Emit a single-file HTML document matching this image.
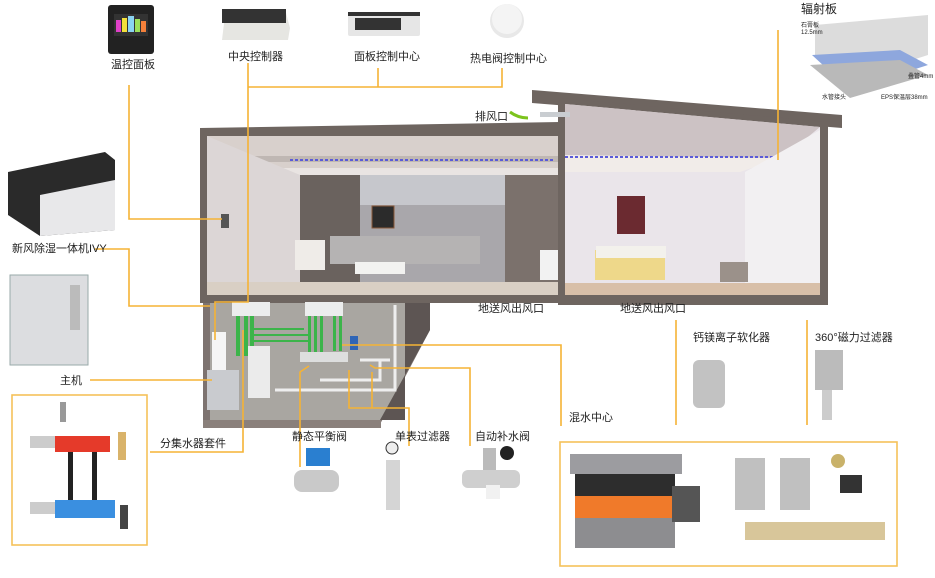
<!DOCTYPE html>
<html><head><meta charset="utf-8">
<style>
html,body{margin:0;padding:0;background:#fff;}
body{width:935px;height:573px;overflow:hidden;}
svg text{font-family:"Liberation Sans","Noto Sans CJK SC",sans-serif;font-size:11px;fill:#222;}
</style></head><body>
<svg width="935" height="573" viewBox="0 0 935 573" xmlns="http://www.w3.org/2000/svg">
<polygon points="200,128 560,122 560,300 200,300" fill="#6e6560"/>
<rect x="207" y="136" width="352" height="160" fill="#e9e4e2"/>
<rect x="207" y="136" width="352" height="32" fill="#d8d0cc"/>
<rect x="230" y="156" width="329" height="6" fill="#bfb7b3"/>
<line x1="290" y1="160" x2="555" y2="160" stroke="#5a5ad8" stroke-width="2" stroke-dasharray="3,2"/>
<polygon points="207,136 300,175 300,296 207,296" fill="#dcd6d6"/>
<rect x="300" y="175" width="60" height="110" fill="#6a625e"/>
<rect x="360" y="175" width="150" height="110" fill="#a9a7ab"/>
<rect x="360" y="175" width="150" height="30" fill="#c6c7cc"/>
<rect x="372" y="206" width="22" height="22" fill="#2b2b2b" stroke="#8a5a3a"/>
<rect x="505" y="175" width="54" height="110" fill="#7b716c"/>
<rect x="330" y="236" width="150" height="28" fill="#b5b3b3"/>
<rect x="355" y="262" width="50" height="12" fill="#f2f2f0"/>
<rect x="295" y="240" width="30" height="30" fill="#efece8"/>
<rect x="540" y="250" width="18" height="30" fill="#f2f2f2"/>
<rect x="207" y="282" width="352" height="14" fill="#d9cfc4"/>
<rect x="221" y="214" width="8" height="14" fill="#555"/>
<polygon points="532,90 842,115 842,128 532,103" fill="#6e6560"/>
<polygon points="558,98 828,122 828,305 558,305" fill="#6e6560"/>
<polygon points="565,104 820,127 820,295 565,295" fill="#eae5ea"/>
<polygon points="565,104 820,127 780,160 565,155" fill="#ccc2c4"/>
<polygon points="565,155 780,158 740,172 565,172" fill="#f1ece9"/>
<line x1="565" y1="157" x2="775" y2="157" stroke="#5a5ad8" stroke-width="2" stroke-dasharray="3,2"/>
<polygon points="745,172 820,130 820,295 745,288" fill="#f2f0f2"/>
<rect x="617" y="196" width="28" height="38" fill="#6b2a30"/>
<rect x="595" y="250" width="70" height="30" fill="#eed88a"/>
<rect x="596" y="246" width="70" height="12" fill="#f3f1ec"/>
<rect x="565" y="283" width="255" height="12" fill="#d8bfa8"/>
<rect x="720" y="262" width="28" height="20" fill="#9b918a"/>
<rect x="558" y="100" width="7" height="200" fill="#6e6560"/>
<rect x="200" y="295" width="628" height="8" fill="#6e6560"/>
<rect x="540" y="112" width="30" height="5" fill="#c9cdd1"/>
<path d="M528,118 Q518,118 510,112" stroke="#7cc31d" stroke-width="3" fill="none"/>
<polygon points="203,303 430,303 430,330 378,428 203,428" fill="#7d7370"/>
<polygon points="210,303 405,303 405,420 210,420" fill="#a9a6a1"/>
<polygon points="405,303 430,303 430,330 380,420 405,420" fill="#5d5553"/>
<rect x="203" y="420" width="178" height="8" fill="#8a807b"/>
<g fill="#3cb44a">
<rect x="236" y="316" width="4" height="40"/><rect x="244" y="316" width="4" height="40"/><rect x="250" y="316" width="4" height="30"/>
<rect x="308" y="316" width="3" height="45"/><rect x="314" y="316" width="3" height="45"/><rect x="320" y="316" width="3" height="45"/>
<rect x="333" y="316" width="3" height="35"/><rect x="339" y="316" width="3" height="35"/>
<rect x="254" y="328" width="50" height="2"/><rect x="254" y="334" width="54" height="2"/><rect x="254" y="340" width="56" height="2"/>
</g>
<rect x="232" y="302" width="38" height="14" fill="#eceded"/>
<rect x="305" y="302" width="38" height="14" fill="#eceded"/>
<rect x="212" y="332" width="14" height="40" fill="#f5f5f5"/>
<rect x="207" y="370" width="32" height="40" fill="#c9cbcf"/>
<rect x="248" y="346" width="22" height="52" fill="#ebebeb"/>
<rect x="300" y="352" width="48" height="10" fill="#dddede"/>
<rect x="350" y="336" width="8" height="14" fill="#2f65b6"/>
<path d="M275,390 H395 V305 M320,380 H380 V360 M360,360 H390" stroke="#eeeeee" stroke-width="3" fill="none"/>

<g stroke="#f5b335" stroke-width="1.6" fill="none">
<path d="M129,85 V219 H222"/>
<path d="M248,63 V302 H215 V340"/>
<path d="M248,87 H502 V68"/>
<path d="M378,87 V68"/>
<path d="M95,249 H129 V306 H210"/>
<path d="M90,380 H212"/>
<path d="M150,452 H243 V330"/>
<path d="M300,467 V372 L309,366"/>
<path d="M409,446 V408 H349 V370"/>
<path d="M372,408 V372"/>
<path d="M470,446 V368 H375 L370,365"/>
<path d="M561,426 V345 H342"/>
<path d="M676,320 V425"/>
<path d="M807,320 V425"/>
<path d="M778,30 V160"/>
</g>
<rect x="12" y="395" width="135" height="150" fill="none" stroke="#f5c15a" stroke-width="1.6"/>
<rect x="560" y="442" width="337" height="124" fill="none" stroke="#f5c15a" stroke-width="1.6"/>

<rect x="108" y="5" width="46" height="49" rx="3" fill="#222"/>
<rect x="114" y="14" width="34" height="22" fill="#333"/>
<rect x="116" y="20" width="5" height="12" fill="#e040c8"/><rect x="122" y="18" width="5" height="14" fill="#f3e03b"/><rect x="128" y="16" width="6" height="16" fill="#8ad4f2"/><rect x="135" y="19" width="5" height="13" fill="#9be05a"/><rect x="141" y="21" width="5" height="11" fill="#f5803a"/>
<polygon points="225,15 285,9 290,28 288,40 222,40" fill="#e6e6e2"/>
<rect x="222" y="9" width="64" height="14" fill="#333"/>
<rect x="348" y="12" width="72" height="24" rx="2" fill="#e6e6e6"/>
<rect x="348" y="12" width="72" height="4" fill="#333"/>
<rect x="355" y="18" width="46" height="12" fill="#333"/>
<circle cx="507" cy="21" r="17" fill="#e8e8e8"/>
<circle cx="507" cy="19" r="15" fill="#f4f4f4"/>
<text x="111" y="68">温控面板</text>
<text x="228" y="60">中央控制器</text>
<text x="354" y="60">面板控制中心</text>
<text x="470" y="62">热电阀控制中心</text>
<text x="475" y="120">排风口</text>

<polygon points="815,25 928,15 928,55 850,80 815,55" fill="#dcdcdc"/>
<polygon points="812,55 900,50 928,65 850,90" fill="#8ea7dd"/>
<polygon points="810,65 900,60 928,75 850,98" fill="#b9b9b9"/>
<text x="801" y="13" style="font-size:12px">辐射板</text>
<text x="801" y="27" style="font-size:6px">石膏板</text>
<text x="801" y="34" style="font-size:6px">12.5mm</text>
<text x="908" y="78" style="font-size:6px">叠管4mm</text>
<text x="822" y="99" style="font-size:6px">水管接头</text>
<text x="881" y="99" style="font-size:6px">EPS保温层38mm</text>

<polygon points="8,172 105,152 115,160 115,230 40,236 8,215" fill="#2a2a2a"/>
<polygon points="40,195 115,180 115,230 40,236" fill="#e8e8ea"/>
<text x="12" y="252">新风除湿一体机IVY</text>
<polygon points="10,275 88,275 88,365 10,365" fill="#dcdde0" stroke="#9aa" stroke-width="1"/>
<rect x="70" y="285" width="10" height="45" fill="#bbb"/>
<text x="60" y="384">主机</text>

<rect x="60" y="402" width="6" height="20" fill="#999"/>
<rect x="30" y="436" width="25" height="12" fill="#ccc"/>
<rect x="55" y="436" width="55" height="16" fill="#e53a2a"/>
<rect x="30" y="502" width="25" height="12" fill="#ccc"/>
<rect x="55" y="500" width="60" height="18" fill="#3a8fe0"/>
<rect x="68" y="452" width="5" height="48" fill="#222"/><rect x="92" y="452" width="5" height="48" fill="#222"/>
<rect x="118" y="432" width="8" height="28" fill="#d9b36a"/>
<rect x="120" y="505" width="8" height="24" fill="#444"/>
<text x="160" y="447">分集水器套件</text>

<text x="292" y="440">静态平衡阀</text>
<rect x="306" y="448" width="24" height="18" fill="#2a7fd0"/>
<rect x="294" y="470" width="45" height="22" rx="8" fill="#c9c9c9"/>
<text x="395" y="440">单表过滤器</text>
<circle cx="392" cy="448" r="6" fill="#eee" stroke="#333"/>
<rect x="386" y="460" width="14" height="50" fill="#d5d5d5"/>
<text x="475" y="440">自动补水阀</text>
<rect x="483" y="448" width="13" height="22" fill="#bbb"/>
<circle cx="507" cy="453" r="7" fill="#222"/>
<rect x="462" y="470" width="58" height="18" rx="6" fill="#cfcfcf"/>
<rect x="486" y="485" width="14" height="14" fill="#f1f1f1"/>

<text x="478" y="312">地送风出风口</text>
<text x="620" y="312">地送风出风口</text>
<text x="693" y="341">钙镁离子软化器</text>
<rect x="693" y="360" width="32" height="48" rx="6" fill="#c2c2c2"/>
<text x="815" y="341">360°磁力过滤器</text>
<rect x="815" y="350" width="28" height="40" fill="#bbb"/>
<rect x="822" y="390" width="10" height="30" fill="#ccc"/>
<text x="569" y="421">混水中心</text>

<rect x="570" y="454" width="112" height="20" fill="#9c9ca0"/>
<rect x="575" y="474" width="100" height="22" fill="#2d2d2d"/>
<rect x="575" y="496" width="100" height="22" fill="#f07a2a"/>
<rect x="575" y="518" width="100" height="30" fill="#8d8d90"/>
<rect x="672" y="486" width="28" height="36" fill="#555"/>
<rect x="735" y="458" width="30" height="52" fill="#c0c0c0"/>
<rect x="780" y="458" width="30" height="52" fill="#c0c0c0"/>
<circle cx="838" cy="461" r="7" fill="#c9b26a"/>
<rect x="840" y="475" width="22" height="18" fill="#333"/>
<rect x="745" y="522" width="140" height="18" fill="#d8c69a"/>
</svg>
</body></html>
